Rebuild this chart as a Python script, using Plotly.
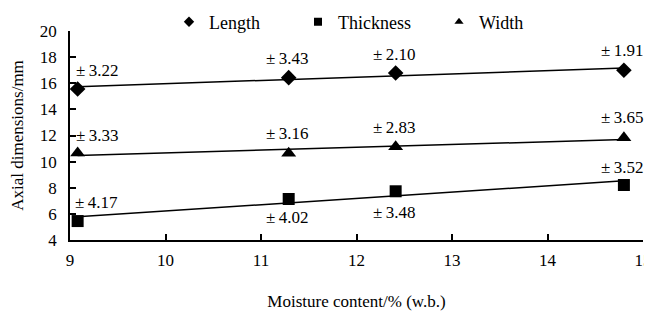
import numpy as np
import plotly.graph_objects as go

# Data
moisture = [9.08, 11.29, 12.41, 14.8]
length = [15.56, 16.43, 16.78, 16.99]
width = [10.66, 10.65, 11.14, 11.83]
thickness = [5.45, 7.14, 7.73, 8.21]
length_sd = ["±3.22", "±3.43", "±2.10", "±1.91"]
width_sd = ["±3.33", "±3.16", "±2.83", "±3.65"]
thickness_sd = ["±4.17", "±4.02", "±3.48", "±3.52"]

FONT = "Liberation Serif, Times New Roman, serif"
fig = go.Figure()

series = [
    ("Length", length, "diamond", 12, "legend", length_sd, [-19, -19, -19, -20]),
    ("Thickness", thickness, "square", 12, "legend2", thickness_sd, [-19, 19, 21, -18]),
    ("Width", width, "triangle-up", 13, "legend3", width_sd, [-18, -20, -19, -20]),
]

for name, ys, sym, size, lg, sds, yshifts in series:
    # trendline (linear fit of the data)
    k, b = np.polyfit(moisture, ys, 1)
    xl = [moisture[0], moisture[-1]]
    fig.add_trace(go.Scatter(x=xl, y=[k * v + b for v in xl], mode="lines",
                             line=dict(color="black", width=1.5), showlegend=False,
                             hoverinfo="skip"))
    fig.add_trace(go.Scatter(x=moisture, y=ys, mode="markers", name=name,
                             marker=dict(symbol=sym, size=size, color="black"),
                             showlegend=False))
    # legend-only trace with smaller marker
    fig.add_trace(go.Scatter(x=[None], y=[None], mode="markers", name=name,
                             marker=dict(symbol=sym, size=8, color="black"),
                             legend=lg))
    for i, (xv, yv, t, ys_) in enumerate(zip(moisture, ys, sds, yshifts)):
        fig.add_annotation(x=xv, y=yv, text=t.replace("±", "±\u2009"), showarrow=False,
                           xshift=19 if i == 0 else -2, yshift=-ys_,
                           font=dict(family=FONT, size=17, color="black"))

# the page body adds an 8px offset; margins compensate for it
FW, FH = 652, 311
legend_common = dict(orientation="h", yanchor="middle", y=1 - 14 / FH,
                     xanchor="left", xref="container", yref="container",
                     font=dict(family=FONT, size=18, color="black"),
                     bgcolor="rgba(0,0,0,0)", itemwidth=30)
fig.update_layout(
    legend=dict(**legend_common, x=161 / FW),
    legend2=dict(**legend_common, x=290 / FW),
    legend3=dict(**legend_common, x=431 / FW),
)

fig.update_layout(
    width=FW, height=FH,
    margin=dict(l=62, r=17, t=23, b=79, autoexpand=False),
    paper_bgcolor="white", plot_bgcolor="white",
    font=dict(family=FONT, size=17, color="black"),
    xaxis=dict(range=[9, 15], dtick=1, tick0=9, ticks="inside", ticklen=6,
               tickwidth=1.5, tickcolor="black", showline=True, linecolor="black",
               linewidth=1.5, showgrid=False, zeroline=False, ticklabelstandoff=4,
               ticklabeloverflow="allow",
               title=dict(text="Moisture content/% (w.b.)", standoff=26,
                          font=dict(family=FONT, size=17))),
    yaxis=dict(range=[4, 20], dtick=2, tick0=4, ticks="inside", ticklen=6,
               tickwidth=1.5, tickcolor="black", showline=True, linecolor="black",
               linewidth=1.5, showgrid=False, zeroline=False, ticklabelstandoff=8,
               title=dict(text="Axial dimensions/mm", standoff=19,
                          font=dict(family=FONT, size=17))),
)

fig.write_html("out.html")
